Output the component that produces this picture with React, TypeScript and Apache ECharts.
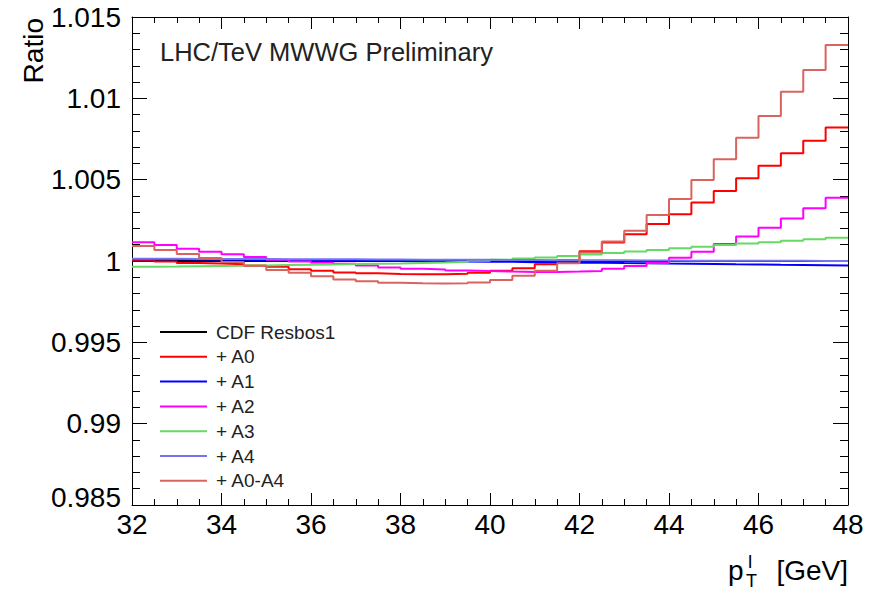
import React, { useEffect, useRef } from "react";
import * as echarts from "echarts";

const FONT = "'Liberation Sans', Arial, Helvetica, sans-serif";

// bin edges in p_T^l [GeV]
const binEdges = [
  32, 32.5, 33, 33.5, 34, 34.5, 35, 35.5, 36, 36.5, 37, 37.5, 38, 38.5, 39, 39.5,
  40, 40.5, 41, 41.5, 42, 42.5, 43, 43.5, 44, 44.5, 45, 45.5, 46, 46.5, 47, 47.5, 48,
];

const seriesNames = ["CDF Resbos1", "+ A0", "+ A1", "+ A2", "+ A3", "+ A4", "+ A0-A4"];
const seriesColors = ["#000000", "#ff0000", "#0000ff", "#ff00ff", "#66d966", "#7474ee", "#d9645f"];

const cdfResbos1 = [
  1, 1, 1, 1, 1, 1, 1, 1, 1, 1, 1, 1, 1, 1, 1, 1,
  1, 1, 1, 1, 1, 1, 1, 1, 1, 1, 1, 1, 1, 1, 1, 1,
];
const plusA0 = [
  1.00003, 0.99997, 0.99988, 0.99984, 0.9998, 0.99973, 0.99964, 0.99949,
  0.9994, 0.9993, 0.99924, 0.9992, 0.99918, 0.99918, 0.99922, 0.99928,
  0.9994, 0.99955, 0.9998, 1.00005, 1.0006, 1.00113, 1.00164, 1.00228,
  1.00287, 1.00359, 1.0043, 1.00508, 1.00586, 1.00662, 1.0074, 1.0082,
];
const plusA1 = [
  1.0001, 1.0001, 1.00009, 1.00008, 1.00007, 1.00006, 1.00005, 1.00004,
  1.00003, 1.00002, 1.00001, 1.0, 0.99999, 0.99998, 0.99997, 0.99996,
  0.99995, 0.99993, 0.99992, 0.9999, 0.99989, 0.99987, 0.99986, 0.99984,
  0.99983, 0.99982, 0.9998, 0.99979, 0.99977, 0.99976, 0.99974, 0.99972,
];
const plusA2 = [
  1.00116, 1.00098, 1.00075, 1.00057, 1.00042, 1.00025, 1.00008, 0.99997,
  0.9999, 0.99983, 0.99972, 0.9996, 0.99952, 0.99948, 0.99942, 0.99938,
  0.99935, 0.99933, 0.99933, 0.99935, 0.99938, 0.99952, 0.9997, 0.99988,
  1.0002, 1.00057, 1.00105, 1.0015, 1.00205, 1.00262, 1.00324, 1.00389,
];
const plusA3 = [
  0.99965, 0.99966, 0.99968, 0.9997, 0.99971, 0.99973, 0.99975, 0.99977,
  0.99979, 0.99981, 0.99983, 0.99985, 0.99988, 0.99991, 0.99995, 1.00001,
  1.00008, 1.00015, 1.00022, 1.0003, 1.0004, 1.00049, 1.00058, 1.00068,
  1.00078, 1.00088, 1.00098, 1.00107, 1.00116, 1.00125, 1.00134, 1.00143,
];
const plusA4 = [
  1.00014, 1.00014, 1.00013, 1.00013, 1.00012, 1.00012, 1.00011, 1.00011,
  1.0001, 1.0001, 1.00009, 1.00009, 1.00008, 1.00008, 1.00007, 1.00007,
  1.00006, 1.00006, 1.00005, 1.00005, 1.00004, 1.00004, 1.00003, 1.00003,
  1.00002, 1.00002, 1.00002, 1.00001, 1.00001, 1.00001, 1.0, 1.0,
];
const plusA0A4 = [
  1.00092, 1.00068, 1.00043, 1.00018, 0.99994, 0.9997, 0.99944, 0.99928,
  0.99906, 0.99887, 0.99875, 0.99867, 0.99863, 0.99862, 0.99863, 0.99868,
  0.99883, 0.9991, 0.9994, 0.99986, 1.00052, 1.0012, 1.00186, 1.00283,
  1.00381, 1.00498, 1.00625, 1.00758, 1.00891, 1.01041, 1.01174, 1.01328,
];

const allValues = [cdfResbos1, plusA0, plusA1, plusA2, plusA3, plusA4, plusA0A4];

const xTicks = { min: 32, max: 48, interval: 2 };
const yTicks = { min: 0.985, max: 1.015, interval: 0.005 };

function histData(vals: number[]) {
  const pts: [number, number][] = vals.map((v, i) => [binEdges[i], v]);
  pts.push([binEdges[binEdges.length - 1], vals[vals.length - 1]]);
  return pts;
}

export default function App() {
  const ref = useRef<HTMLDivElement>(null);
  useEffect(() => {
    if (!ref.current) return;
    const chart = echarts.init(ref.current, undefined, { renderer: "svg" });
    const axisLine = { show: true, onZero: false, lineStyle: { color: "#000", width: 1 } };
    const xAxisBase = {
      type: "value",
      min: xTicks.min,
      max: xTicks.max,
      interval: xTicks.interval,
      axisLine,
      axisTick: { show: true, inside: true, length: 12, lineStyle: { color: "#000" } },
      minorTick: { show: true, splitNumber: 4, length: 6, lineStyle: { color: "#000" } },
      splitLine: { show: false },
      minorSplitLine: { show: false },
    };
    const yAxisBase = {
      type: "value",
      min: yTicks.min,
      max: yTicks.max,
      interval: yTicks.interval,
      axisLine,
      axisTick: { show: true, inside: true, length: 15, lineStyle: { color: "#000" } },
      minorTick: { show: true, splitNumber: 5, length: 8, lineStyle: { color: "#000" } },
      splitLine: { show: false },
      minorSplitLine: { show: false },
    };
    const option: any = {
      animation: false,
      backgroundColor: "#ffffff",
      grid: { left: 132, top: 17, right: 26, bottom: 88, containLabel: false },
      xAxis: [
        {
          ...xAxisBase,
          position: "bottom",
          axisLabel: { show: true, fontSize: 28, color: "#000", fontFamily: FONT, margin: 5 },
        },
        { ...xAxisBase, position: "top", axisLabel: { show: false } },
      ],
      yAxis: [
        {
          ...yAxisBase,
          position: "left",
          axisLabel: {
            show: true,
            fontSize: 28,
            color: "#000",
            fontFamily: FONT,
            margin: 11,
            formatter: (v: number) => {
              const s = String(parseFloat(v.toFixed(3)));
              return Math.abs(v - yTicks.min) < 1e-9 ? "{low|" + s + "}" : s;
            },
            rich: { low: { fontSize: 28, fontFamily: FONT, color: "#000", padding: [0, 0, 16, 0] } },
          },
        },
        { ...yAxisBase, position: "right", axisLabel: { show: false } },
      ],
      legend: {
        orient: "vertical",
        left: 160,
        top: 322,
        itemWidth: 47,
        itemHeight: 2,
        itemGap: 4.8,
        icon: "rect",
        padding: 0,
        textStyle: { fontSize: 19, color: "#222", fontFamily: FONT, lineHeight: 20, padding: [0, 0, 0, 4] },
        data: seriesNames,
      },
      graphic: [
        {
          type: "text",
          x: 160,
          y: 52,
          style: {
            text: "LHC/TeV MWWG Preliminary",
            fontSize: 25.5,
            fontFamily: FONT,
            fill: "#222",
            align: "left",
            verticalAlign: "middle",
          },
        },
        {
          type: "text",
          x: 33,
          y: 18,
          rotation: Math.PI / 2,
          style: {
            text: "Ratio",
            fontSize: 28,
            fontFamily: FONT,
            fill: "#000",
            align: "right",
            verticalAlign: "middle",
          },
        },
        {
          type: "text",
          x: 728,
          y: 570,
          style: { text: "p", fontSize: 28, fontFamily: FONT, fill: "#000", align: "left", verticalAlign: "middle" },
        },
        {
          type: "text",
          x: 748,
          y: 561,
          style: { text: "l", fontSize: 19, fontFamily: FONT, fill: "#000", align: "left", verticalAlign: "middle" },
        },
        {
          type: "text",
          x: 746,
          y: 581,
          style: { text: "T", fontSize: 18, fontFamily: FONT, fill: "#000", align: "left", verticalAlign: "middle" },
        },
        {
          type: "text",
          x: 848,
          y: 570,
          style: { text: "[GeV]", fontSize: 28, fontFamily: FONT, fill: "#000", align: "right", verticalAlign: "middle" },
        },
      ],
      series: seriesNames.map((name, i) => ({
        name,
        type: "line",
        step: "end",
        xAxisIndex: 0,
        yAxisIndex: 0,
        symbol: "none",
        showSymbol: false,
        color: seriesColors[i],
        lineStyle: { color: seriesColors[i], width: 2 },
        z: 2 + i,
        data: histData(allValues[i]),
      })),
    };
    chart.setOption(option);
    return () => chart.dispose();
  }, []);
  return (
    <div
      ref={ref}
      style={{ position: "fixed", left: 0, top: 0, width: 874, height: 593, background: "#fff" }}
    />
  );
}
